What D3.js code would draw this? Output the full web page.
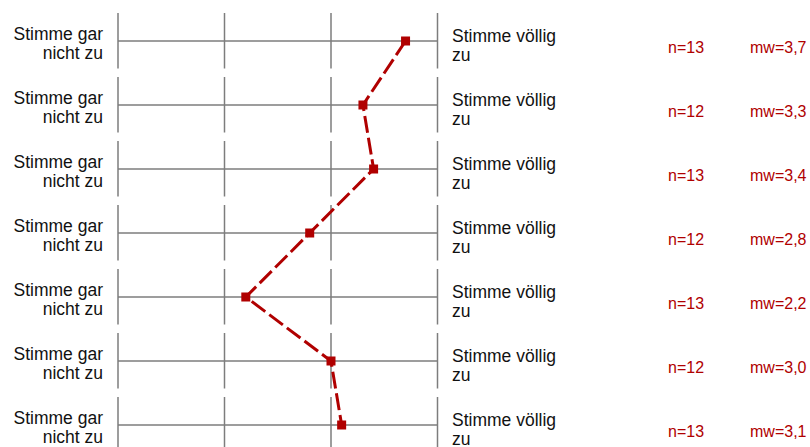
<!DOCTYPE html>
<html>
<head>
<meta charset="utf-8">
<script src="https://cdn.jsdelivr.net/npm/d3@7"></script>
<style>
  html, body { margin: 0; padding: 0; background: #fff; }
  svg { display: block; font-family: "Liberation Sans", Arial, sans-serif; }
</style>
</head>
<body>
<svg id="chart" width="810" height="447"></svg>
<script>
// Items of the rating profile (one row each)
const items = ["i1", "i2", "i3", "i4", "i5", "i6", "i7"];
const nValues = [13, 12, 13, 12, 13, 12, 13];
const meanValues = [3.7, 3.3, 3.4, 2.8, 2.2, 3.0, 3.1];
const scaleTicks = [1, 2, 3, 4];
const leftPole = ["Stimme gar", "nicht zu"];
const rightPole = ["Stimme völlig", "zu"];

const grey = "#7d7d7d";
const red = "#b00000";

const svg = d3.select("#chart");

const x = d3.scaleLinear().domain([1, 4]).range([118, 437.5]);
const y = d3.scalePoint().domain(items).range([41, 425]);

// Horizontal scale line per item
svg.append("g").selectAll("line")
  .data(items).join("line")
  .attr("x1", x(1)).attr("x2", x(4))
  .attr("y1", d => y(d)).attr("y2", d => y(d))
  .attr("stroke", grey).attr("stroke-width", 1.5);

// Vertical tick segments at each scale step, per item
const tickG = svg.append("g");
items.forEach(it => {
  tickG.selectAll(null)
    .data(scaleTicks).join("line")
    .attr("x1", d => x(d)).attr("x2", d => x(d))
    .attr("y1", y(it) - 28).attr("y2", y(it) + 27.5)
    .attr("stroke", grey).attr("stroke-width", 1.5);
});

// Left pole labels
const left = svg.append("g").selectAll("text")
  .data(items).join("text")
  .attr("text-anchor", "end")
  .attr("font-size", 17.5)
  .attr("fill", "#111");
left.append("tspan").attr("x", 103).attr("y", d => y(d) - 1).text(leftPole[0]);
left.append("tspan").attr("x", 103).attr("y", d => y(d) + 17.5).text(leftPole[1]);

// Right pole labels
const right = svg.append("g").selectAll("text")
  .data(items).join("text")
  .attr("font-size", 17.5)
  .attr("fill", "#111");
right.append("tspan").attr("x", 452).attr("y", d => y(d) + 1).text(rightPole[0]);
right.append("tspan").attr("x", 452).attr("y", d => y(d) + 19.5).text(rightPole[1]);

// n and mean value annotations
svg.append("g").selectAll("text")
  .data(items).join("text")
  .attr("x", 668).attr("y", d => y(d) + 12)
  .attr("font-size", 16).attr("fill", red)
  .text((d, i) => "n=" + nValues[i]);

svg.append("g").selectAll("text")
  .data(items).join("text")
  .attr("x", 750).attr("y", d => y(d) + 12)
  .attr("font-size", 16).attr("fill", red)
  .text((d, i) => "mw=" + meanValues[i].toFixed(1).replace(".", ","));

// Profile line connecting the means
const pts = items.map((d, i) => [x(meanValues[i]), y(d)]);
svg.append("path")
  .attr("d", d3.line()(pts))
  .attr("fill", "none")
  .attr("stroke", red)
  .attr("stroke-width", 3)
  .attr("stroke-dasharray", "17,5");

// Mean markers
svg.append("g").selectAll("rect")
  .data(pts).join("rect")
  .attr("x", d => d[0] - 4.5).attr("y", d => d[1] - 4.5)
  .attr("width", 9).attr("height", 9)
  .attr("fill", red);
</script>
</body>
</html>
